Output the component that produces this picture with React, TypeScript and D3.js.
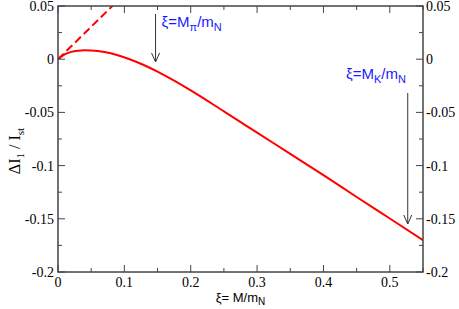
import React from "react";
import * as d3 from "d3";

// curve
const xiValues = [0, 0.01, 0.02, 0.03, 0.04, 0.05, 0.07, 0.09, 0.11, 0.13, 0.15, 0.175, 0.2, 0.25, 0.3, 0.35, 0.4, 0.45, 0.5, 0.55];
const deltaValues = [0, 0.0046, 0.0069, 0.008, 0.0084, 0.0082, 0.0067, 0.0037, -0.0005, -0.0057, -0.0117, -0.0202, -0.0293, -0.049, -0.069, -0.089, -0.109, -0.1295, -0.1497, -0.17];

// leading linear term (dashed)
const dashedXi = [0, 0.1];
const dashedValues = [0, 0.061];

const xMajorTicks = [0, 0.1, 0.2, 0.3, 0.4, 0.5];
const xMinorTicks = [0.05, 0.15, 0.25, 0.35, 0.45, 0.55];
const yMajorTicks = [0.05, 0, -0.05, -0.1, -0.15, -0.2];
const yMinorTicks = [0.025, -0.025, -0.075, -0.125, -0.175];

const arrowPi = 0.147;
const arrowK = 0.527;

const W = 459;
const H = 309;
const margin = { top: 6, right: 36, bottom: 37, left: 58 };

const fmt = (v: number) => (v === 0 ? "0" : String(v));

const App = () => {
  const x = d3.scaleLinear().domain([0, 0.55]).range([margin.left, W - margin.right]);
  const y = d3.scaleLinear().domain([-0.2, 0.05]).range([H - margin.bottom, margin.top]);

  const line = d3
    .line<number>()
    .x((d, i) => x(xiValues[i]))
    .y((d) => y(d))
    .curve(d3.curveMonotoneX);

  const dashLine = d3
    .line<number>()
    .x((d, i) => x(dashedXi[i]))
    .y((d) => y(d));

  const x0 = x(0);
  const x1 = x(0.55);
  const yTop = y(0.05);
  const yBot = y(-0.2);
  const axisColor = "#444";
  const serif = "'Liberation Serif', 'Times New Roman', serif";
  const sans = "'Liberation Sans', Arial, sans-serif";

  return (
    <svg width={W} height={H} style={{ position: "absolute", left: 0, top: 0 }}>
      <defs>
        <clipPath id="plot">
          <rect x={x0} y={yTop} width={x1 - x0} height={yBot - yTop} />
        </clipPath>
      </defs>

      {/* curves */}
      <g clipPath="url(#plot)">
        <path d={dashLine(dashedValues) || ""} fill="none" stroke="#ff0000" strokeWidth={2} strokeDasharray="8,4" />
        <path d={line(deltaValues) || ""} fill="none" stroke="#ff0000" strokeWidth={2} />
      </g>

      {/* frame */}
      <rect x={x0} y={yTop} width={x1 - x0} height={yBot - yTop} fill="none" stroke={axisColor} strokeWidth={1.5} />

      {/* x ticks, bottom and top */}
      {xMajorTicks.map((t) => (
        <g key={"xm" + t}>
          <line x1={x(t)} x2={x(t)} y1={yBot} y2={yBot - 7} stroke={axisColor} strokeWidth={1} />
          <line x1={x(t)} x2={x(t)} y1={yTop} y2={yTop + 7} stroke={axisColor} strokeWidth={1} />
          <text x={x(t)} y={yBot + 15} textAnchor="middle" fontFamily={serif} fontSize={14}>
            {fmt(t)}
          </text>
        </g>
      ))}
      {xMinorTicks.map((t) => (
        <g key={"xn" + t}>
          <line x1={x(t)} x2={x(t)} y1={yBot} y2={yBot - 4} stroke={axisColor} strokeWidth={1} />
          <line x1={x(t)} x2={x(t)} y1={yTop} y2={yTop + 4} stroke={axisColor} strokeWidth={1} />
        </g>
      ))}

      {/* y ticks, left and right */}
      {yMajorTicks.map((t) => (
        <g key={"ym" + t}>
          <line x1={x0} x2={x0 + 7} y1={y(t)} y2={y(t)} stroke={axisColor} strokeWidth={1} />
          <line x1={x1} x2={x1 - 7} y1={y(t)} y2={y(t)} stroke={axisColor} strokeWidth={1} />
          <text x={x0 - 4} y={y(t) + 5} textAnchor="end" fontFamily={serif} fontSize={14}>
            {fmt(t)}
          </text>
          <text x={x1 + 3} y={y(t) + 5} textAnchor="start" fontFamily={serif} fontSize={14}>
            {fmt(t)}
          </text>
        </g>
      ))}
      {yMinorTicks.map((t) => (
        <g key={"yn" + t}>
          <line x1={x0} x2={x0 + 4} y1={y(t)} y2={y(t)} stroke={axisColor} strokeWidth={1} />
          <line x1={x1} x2={x1 - 4} y1={y(t)} y2={y(t)} stroke={axisColor} strokeWidth={1} />
        </g>
      ))}

      {/* arrows */}
      {[
        { xi: arrowPi, from: 14, to: 62 },
        { xi: arrowK, from: 93, to: 224 },
      ].map((a) => (
        <g key={"a" + a.xi} stroke="#333" strokeWidth={1} fill="none">
          <line x1={x(a.xi)} x2={x(a.xi)} y1={a.from} y2={a.to} />
          <polyline points={`${x(a.xi) - 4},${a.to - 9} ${x(a.xi)},${a.to} ${x(a.xi) + 4},${a.to - 9}`} />
        </g>
      ))}

      {/* annotations */}
      <text x={x(arrowPi) + 6} y={27} fontFamily={sans} fontSize={15} fill="#1a1aff">
        ξ=M<tspan dy={4} fontSize={11}>π</tspan>
        <tspan dy={-4}>/m</tspan>
        <tspan dy={4} fontSize={11}>N</tspan>
      </text>
      <text x={346} y={79} fontFamily={sans} fontSize={15} fill="#1a1aff">
        ξ=M<tspan dy={4} fontSize={11}>K</tspan>
        <tspan dy={-4}>/m</tspan>
        <tspan dy={4} fontSize={11}>N</tspan>
      </text>

      {/* axis labels */}
      <text x={(x0 + x1) / 2} y={H - 7} textAnchor="middle" fontFamily={sans} fontSize={13}>
        ξ= M/m<tspan dy={3} fontSize={10}>N</tspan>
      </text>
      <text
        transform={`translate(20, ${(yTop + yBot) / 2 + 12}) rotate(-90)`}
        textAnchor="middle"
        fontFamily={serif}
        fontSize={16}
      >
        ΔI<tspan dy={4} fontSize={11}>1</tspan>
        <tspan dy={-4}> / I</tspan>
        <tspan dy={4} fontSize={11}>st</tspan>
      </text>
    </svg>
  );
};

export default App;
